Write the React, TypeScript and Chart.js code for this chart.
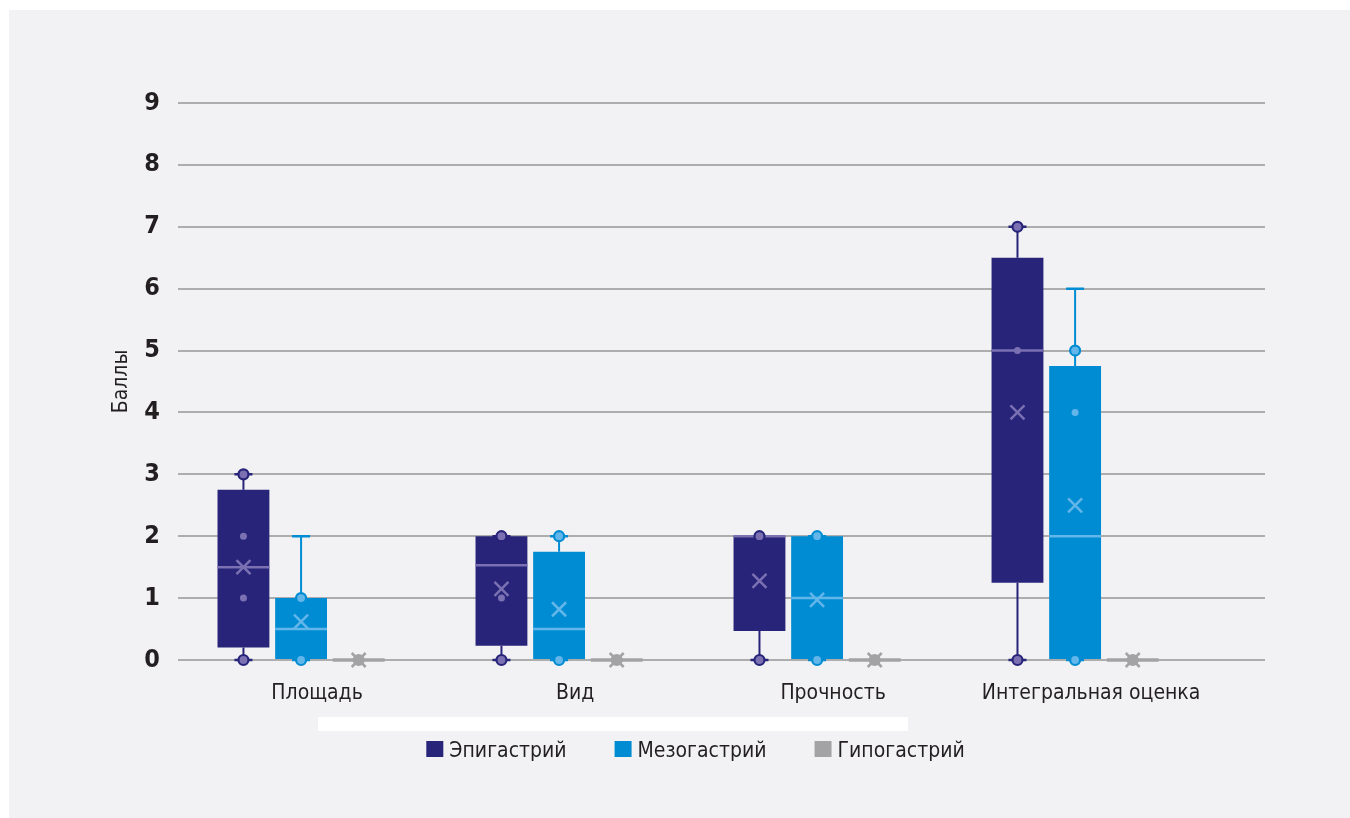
import React, { useEffect, useRef } from 'react';
import { Chart, registerables } from 'chart.js';

Chart.register(...registerables);

const categories = ['Площадь', 'Вид', 'Прочность', 'Интегральная оценка'];
const seriesNames = ['Эпигастрий', 'Мезогастрий', 'Гипогастрий'];
const yTicks = [0, 1, 2, 3, 4, 5, 6, 7, 8, 9];
const yTitle = 'Баллы';

// Эпигастрий
const epiMin = [0, 0, 0, 0];
const epiQ1 = [0.2, 0.23, 0.47, 1.25];
const epiMedian = [1.5, 1.53, 2, 5];
const epiQ3 = [2.75, 2, 2, 6.5];
const epiMax = [3, 2, 2, 7];
const epiMean = [1.5, 1.15, 1.28, 4];
const epiPoints = [[0, 1, 2, 3], [0, 1, 2], [0, 2], [0, 5, 7]];

// Мезогастрий
const mesoMin = [0, 0, 0, 0];
const mesoQ1 = [0, 0, 0, 0];
const mesoMedian = [0.5, 0.5, 1, 2];
const mesoQ3 = [1, 1.75, 2, 4.75];
const mesoMax = [2, 2, 2, 6];
const mesoMean = [0.62, 0.82, 0.97, 2.5];
const mesoPoints = [[0, 1], [0, 2], [0, 2], [0, 4, 5]];

// Гипогастрий
const hypoMin = [0, 0, 0, 0];
const hypoQ1 = [0, 0, 0, 0];
const hypoMedian = [0, 0, 0, 0];
const hypoQ3 = [0, 0, 0, 0];
const hypoMax = [0, 0, 0, 0];
const hypoMean = [0, 0, 0, 0];
const hypoPoints = [[0], [0], [0], [0]];

const FONT = "'Liberation Sans Narrow', 'DejaVu Sans Condensed', 'Arial Narrow', sans-serif";
const TEXT = '#231f20';

const seriesStyles = [
  { dark: '#27247a', light: '#7a70b2', medianWidth: 2.5 },
  { dark: '#008cd3', light: '#62b6ea', medianWidth: 2.5 },
  { dark: '#a3a3a5', light: '#a3a3a5', medianWidth: 3.5 },
];

const seriesStats = [
  { min: epiMin, q1: epiQ1, median: epiMedian, q3: epiQ3, max: epiMax, mean: epiMean, points: epiPoints, caps: true },
  { min: mesoMin, q1: mesoQ1, median: mesoMedian, q3: mesoQ3, max: mesoMax, mean: mesoMean, points: mesoPoints, caps: true },
  { min: hypoMin, q1: hypoQ1, median: hypoMedian, q3: hypoQ3, max: hypoMax, mean: hypoMean, points: hypoPoints, caps: false },
];

const boxPlugin = {
  id: 'boxplotExtras',
  beforeDatasetsDraw(chart: any) {
    const ctx = chart.ctx;
    const y = chart.scales.y;
    chart.data.datasets.forEach((ds: any, di: number) => {
      const meta = chart.getDatasetMeta(di);
      const st = seriesStats[di];
      const sty = seriesStyles[di];
      meta.data.forEach((el: any, i: number) => {
        const { x } = el.getProps(['x'], true);
        ctx.save();
        ctx.strokeStyle = sty.dark;
        ctx.lineWidth = 2;
        ctx.beginPath();
        ctx.moveTo(x, y.getPixelForValue(st.q3[i]));
        ctx.lineTo(x, y.getPixelForValue(st.max[i]));
        ctx.moveTo(x, y.getPixelForValue(st.q1[i]));
        ctx.lineTo(x, y.getPixelForValue(st.min[i]));
        ctx.stroke();
        if (st.caps) {
          ctx.lineWidth = 2.5;
          ctx.beginPath();
          ctx.moveTo(x - 9, y.getPixelForValue(st.max[i]));
          ctx.lineTo(x + 9, y.getPixelForValue(st.max[i]));
          ctx.moveTo(x - 9, y.getPixelForValue(st.min[i]));
          ctx.lineTo(x + 9, y.getPixelForValue(st.min[i]));
          ctx.stroke();
        }
        ctx.restore();
      });
    });
  },
  afterDatasetsDraw(chart: any) {
    const ctx = chart.ctx;
    const y = chart.scales.y;
    chart.data.datasets.forEach((ds: any, di: number) => {
      const meta = chart.getDatasetMeta(di);
      const st = seriesStats[di];
      const sty = seriesStyles[di];
      meta.data.forEach((el: any, i: number) => {
        const { x, width } = el.getProps(['x', 'width'], true);
        ctx.save();
        // median
        const my = y.getPixelForValue(st.median[i]);
        ctx.strokeStyle = sty.light;
        ctx.lineWidth = sty.medianWidth;
        ctx.beginPath();
        ctx.moveTo(x - width / 2, my);
        ctx.lineTo(x + width / 2, my);
        ctx.stroke();
        // points
        st.points[i].forEach((v: number) => {
          const py = y.getPixelForValue(v);
          const outer = v <= st.q1[i] || v >= st.q3[i];
          ctx.beginPath();
          if (outer) {
            ctx.arc(x, py, 5, 0, Math.PI * 2);
            ctx.fillStyle = sty.light;
            ctx.fill();
            ctx.lineWidth = 2.2;
            ctx.strokeStyle = sty.dark;
            ctx.stroke();
          } else {
            ctx.arc(x, py, 3.5, 0, Math.PI * 2);
            ctx.fillStyle = sty.light;
            ctx.fill();
          }
        });
        // mean cross
        const ey = y.getPixelForValue(st.mean[i]);
        const h = 7;
        ctx.strokeStyle = sty.light;
        ctx.lineWidth = 2.5;
        ctx.beginPath();
        ctx.moveTo(x - h, ey - h);
        ctx.lineTo(x + h, ey + h);
        ctx.moveTo(x + h, ey - h);
        ctx.lineTo(x - h, ey + h);
        ctx.stroke();
        ctx.restore();
      });
    });
  },
  afterDraw(chart: any) {
    const ctx = chart.ctx;
    const area = chart.chartArea;
    ctx.save();
    // y-axis title
    ctx.font = `21px ${FONT}`;
    ctx.fillStyle = TEXT;
    ctx.translate(area.left - 51, (area.top + area.bottom) / 2);
    ctx.rotate(-Math.PI / 2);
    ctx.textAlign = 'center';
    ctx.textBaseline = 'alphabetic';
    ctx.fillText(yTitle, 0, 0);
    ctx.restore();

    // legend
    ctx.save();
    ctx.font = `21px ${FONT}`;
    ctx.textBaseline = 'alphabetic';
    ctx.textAlign = 'left';
    const box = 17;
    const gap = 6;
    const spacing = 48;
    const widths = seriesNames.map((n) => box + gap + ctx.measureText(n).width);
    const total = widths.reduce((a, b) => a + b, 0) + spacing * (seriesNames.length - 1);
    let lx = (area.left + area.right) / 2 - 26 - total / 2;
    const baseY = area.bottom + 97;
    seriesNames.forEach((n, i) => {
      ctx.fillStyle = seriesStyles[i].dark;
      ctx.fillRect(lx, baseY - 16, box, 16);
      ctx.fillStyle = TEXT;
      ctx.fillText(n, lx + box + gap, baseY);
      lx += widths[i] + spacing;
    });
    ctx.restore();
  },
};

export default function App() {
  const canvasRef = useRef<HTMLCanvasElement | null>(null);

  useEffect(() => {
    if (!canvasRef.current) return;
    const datasets = seriesNames.map((name, di) => ({
      label: name,
      data: categories.map((_, i) => ({ x: i, y: [seriesStats[di].q1[i], seriesStats[di].q3[i]] })),
      backgroundColor: seriesStyles[di].dark,
      borderWidth: 0,
      categoryPercentage: 0.67,
      barPercentage: 0.9,
    }));
    const chart = new Chart(canvasRef.current, {
      type: 'bar',
      data: { datasets } as any,
      options: {
        animation: false,
        responsive: false,
        maintainAspectRatio: false,
        layout: { padding: { left: 116, right: 85, top: 93, bottom: 0 } },
        plugins: {
          legend: { display: false },
          tooltip: { enabled: false },
        },
        scales: {
          x: {
            type: 'linear',
            offset: false,
            min: -0.477,
            max: 3.736,
            afterBuildTicks: (s: any) => {
              s.ticks = categories.map((_, i) => ({ value: i }));
            },
            afterFit: (s: any) => {
              s.height = 158;
            },
            grid: { display: false, drawTicks: false, offset: false },
            border: { display: false },
            ticks: {
              autoSkip: false,
              maxRotation: 0,
              padding: 21,
              labelOffset: 16,
              color: TEXT,
              font: { family: FONT, size: 21 },
              callback: (v: any) => categories[Math.round(v)] ?? '',
            },
          },
          y: {
            min: 0,
            max: 9,
            afterBuildTicks: (s: any) => {
              s.ticks = yTicks.map((v) => ({ value: v }));
            },
            afterFit: (s: any) => {
              s.width = 53;
            },
            grid: { color: '#adadad', lineWidth: 2, drawTicks: false },
            border: { display: false },
            ticks: {
              padding: 18,
              color: TEXT,
              font: { family: FONT, size: 25, weight: 'bold' },
            },
          },
        },
      } as any,
      plugins: [boxPlugin],
    });
    return () => chart.destroy();
  }, []);

  return (
    <div
      style={{
        position: 'fixed',
        left: 9,
        top: 10,
        width: 1341,
        height: 808,
        background: '#f2f2f4',
      }}
    >
      <div
        style={{
          position: 'absolute',
          left: 309,
          top: 707,
          width: 590,
          height: 14,
          background: '#ffffff',
        }}
      />
      <canvas
        ref={canvasRef}
        width={1341}
        height={808}
        style={{ position: 'absolute', left: 0, top: 0, width: 1341, height: 808 }}
      />
    </div>
  );
}
